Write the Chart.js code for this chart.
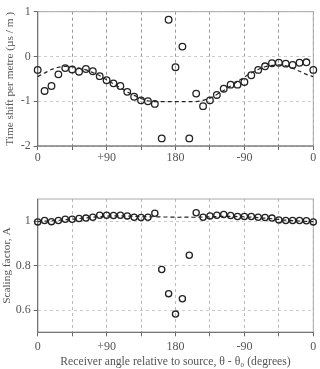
<!DOCTYPE html>
<html><head><meta charset="utf-8">
<script src="https://cdn.jsdelivr.net/npm/chart.js@4"></script>
<style>
html,body{margin:0;padding:0;background:#fff;}
#wrap{position:relative;width:320px;height:369px;overflow:hidden;}
.box{position:absolute;left:0;width:320px;}
</style></head><body>
<div id="wrap">
<div class="box" style="top:0;height:170px"><canvas id="c1" width="320" height="170"></canvas></div>
<div class="box" style="top:170px;height:199px"><canvas id="c2" width="320" height="199"></canvas></div>
</div>
<script>
// Receiver angle (degrees, 0..360 step 9)
const angles = [0,9,18,27,36,45,54,63,72,81,90,99,108,117,126,135,144,153,162,171,180,189,198,207,216,225,234,243,252,261,270,279,288,297,306,315,324,333,342,351,360];
const xTickLabels = {0:'0',90:'+90',180:'180',270:'-90',360:'0'};
// Time shift per metre (µs / m)
const timeShift = [-0.30,-0.77,-0.66,-0.40,-0.26,-0.29,-0.34,-0.28,-0.33,-0.44,-0.53,-0.60,-0.66,-0.79,-0.90,-0.98,-1.00,-1.06,-1.83,0.82,-0.24,0.22,-1.83,-0.83,-1.11,-0.98,-0.86,-0.72,-0.63,-0.63,-0.57,-0.42,-0.30,-0.22,-0.15,-0.14,-0.16,-0.19,-0.14,-0.13,-0.30];
const timeShiftFit = [-0.45,-0.37,-0.29,-0.24,-0.22,-0.23,-0.26,-0.30,-0.36,-0.43,-0.52,-0.61,-0.70,-0.79,-0.87,-0.94,-0.99,-1.01,-1.01,-1.01,-1.01,-1.01,-1.01,-1.01,-0.98,-0.93,-0.85,-0.76,-0.66,-0.56,-0.46,-0.37,-0.29,-0.23,-0.20,-0.19,-0.21,-0.26,-0.33,-0.40,-0.45];
// Scaling factor A
const scaling = [0.997,1.003,0.998,1.003,1.009,1.009,1.012,1.014,1.018,1.027,1.027,1.026,1.027,1.024,1.018,1.017,1.018,1.036,0.783,0.674,0.582,0.651,0.847,1.038,1.018,1.024,1.027,1.030,1.026,1.021,1.021,1.021,1.018,1.017,1.014,1.006,1.003,1.003,1.003,1.002,0.997];
const scalingFit = [0.998,1.000,1.002,1.004,1.007,1.009,1.012,1.015,1.018,1.021,1.023,1.024,1.024,1.023,1.022,1.021,1.020,1.020,1.019,1.019,1.018,1.018,1.018,1.018,1.019,1.020,1.021,1.022,1.022,1.021,1.020,1.018,1.016,1.014,1.011,1.008,1.005,1.003,1.001,0.999,0.998];
const topTicks = [-2,-1,0,1];
const bottomTicks = [0.6,0.8,1];

const FONT = '"Liberation Serif", "Times New Roman", serif';
const TXT = '#555';

const framePlugin = {
  id: 'frame',
  beforeDatasetsDraw(chart) {
    const {ctx, chartArea: a} = chart;
    ctx.save();
    ctx.lineWidth = 1;
    ctx.strokeStyle = '#aaa';
    ctx.strokeRect(a.left, a.top, a.right - a.left, a.bottom - a.top);
    ctx.strokeStyle = '#666';
    ctx.beginPath();
    ctx.moveTo(a.left, a.top); ctx.lineTo(a.left, a.bottom); ctx.lineTo(a.right, a.bottom);
    ctx.stroke();
    ctx.restore();
  }
};

function toXY(ys) { return angles.map((a, i) => ({x: a, y: ys[i]})); }

function makeChart(id, cfg) {
  return new Chart(document.getElementById(id), {
    type: 'scatter',
    data: {
      datasets: [
        {data: toXY(cfg.pts), pointRadius: cfg.r, pointBorderWidth: 1.3, borderColor: '#222', pointBorderColor: '#222', backgroundColor: 'rgba(0,0,0,0)', pointBackgroundColor: 'rgba(0,0,0,0)', showLine: false, clip: false},
        {data: toXY(cfg.fit), showLine: true, pointRadius: 0, borderColor: '#222', borderWidth: 1.2, borderDash: [4, 3], tension: 0.3, clip: false}
      ]
    },
    options: {
      responsive: false, animation: false,
      layout: {padding: cfg.padding},
      plugins: {legend: {display: false}, tooltip: {enabled: false}},
      scales: {
        x: {
          type: 'linear', min: 0, max: 360,
          afterBuildTicks: s => { s.ticks = [0,45,90,135,180,225,270,315,360].map(v => ({value: v})); },
          afterFit: s => { s.height = cfg.xH; },
          ticks: {autoSkip: false, maxRotation: 0, padding: cfg.xPad, color: TXT, font: {family: FONT, size: 12},
                  callback: v => (xTickLabels[v] !== undefined ? xTickLabels[v] : '')},
          grid: {color: cfg.xGrid, lineWidth: 1, tickLength: 4, tickColor: '#666', tickBorderDash: []},
          border: {display: false, dash: [3, 3]},
          title: cfg.xTitle ? {display: true, text: cfg.xTitle, color: TXT, font: {family: FONT, size: 11.7}, padding: {top: 0, bottom: cfg.xTitlePad}} : {display: false}
        },
        y: {
          type: 'linear', min: cfg.yMin, max: cfg.yMax,
          afterBuildTicks: s => { s.ticks = cfg.yTicks.map(v => ({value: v})); },
          afterFit: s => { s.width = 37.7; },
          ticks: {padding: 3, color: TXT, font: {family: FONT, size: 12},
                  callback: v => (v < 0 ? '-' + Math.abs(v) : String(v))},
          grid: {color: cfg.yGrid, lineWidth: 1, tickLength: 4, tickColor: '#666', tickBorderDash: []},
          border: {display: false, dash: [3, 3]},
          title: {display: true, text: cfg.yTitle, color: TXT, font: {family: FONT, size: 11.3}, padding: {top: cfg.yTitlePad, bottom: 0}}
        }
      }
    },
    plugins: [framePlugin]
  });
}

makeChart('c1', {
  pts: timeShift, fit: timeShiftFit, r: 3.3,
  padding: {top: 11.7, right: 6.7, left: 0, bottom: 0},
  xH: 24, xPad: 0.5, xGrid: '#999', yGrid: '#ccc',
  yMin: -2, yMax: 1, yTicks: topTicks,
  yTitle: 'Time shift per metre (\u00b5s / m )', yTitlePad: 3.2
});

makeChart('c2', {
  pts: scaling, fit: scalingFit, r: 3.1,
  padding: {top: 29, right: 6.7, left: 0, bottom: 0},
  xH: 36.7, xPad: 3.5, xGrid: '#bbb', yGrid: '#ccc',
  xTitle: 'Receiver angle relative to source, \u03b8 - \u03b8\u2080 (degrees)', xTitlePad: 0.4,
  yMin: 0.5, yMax: 1.1, yTicks: bottomTicks,
  yTitle: 'Scaling factor, A', yTitlePad: 0.2
});
</script>
</body></html>
